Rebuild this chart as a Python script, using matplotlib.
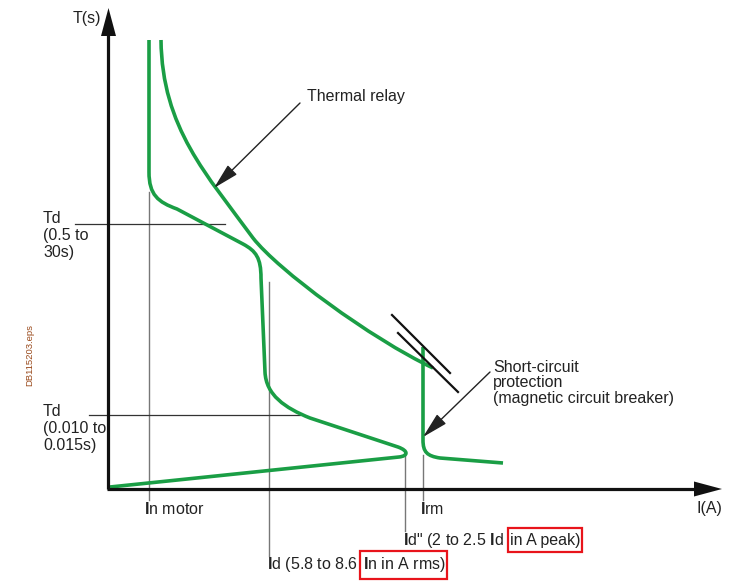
import matplotlib
matplotlib.use("Agg")
from matplotlib import pyplot as plt
from matplotlib.path import Path
from matplotlib.patches import PathPatch, Polygon, Rectangle

plt.rcParams['font.family'] = ['Liberation Sans', 'DejaVu Sans']
plt.rcParams['mathtext.fontset'] = 'custom'
plt.rcParams['mathtext.rm'] = 'Liberation Sans'
plt.rcParams['mathtext.bf'] = 'Liberation Sans:bold'

# schematic drawn in picture units (x right, y down)
GREEN = '#1a9e45'
INK = '#222222'

# motor start-up curve: vertices and path codes (M / L / C4)
motor_pts = [(149, 40), (149, 172),
             (149, 195), (158, 202), (177, 209),
             (243, 244),
             (256, 251), (261, 258), (261, 278),
             (265, 372),
             (266, 395), (285, 408), (310, 418),
             (398, 447),
             (409, 451), (408, 456), (399, 457),
             (110, 487)]
motor_codes = "MLCCCLCCCLCCCLCCCL"

# thermal relay curve (two cubic segments)
thermal_pts = [(161, 40),
               (162, 128), (207, 175), (253, 238),
               (278, 270), (370, 338), (433, 368)]
thermal_codes = "MCCCCCC"

# short-circuit (magnetic) trip curve
magnetic_pts = [(423, 347), (423, 440),
                (423, 452), (427, 456), (440, 458),
                (503, 463)]
magnetic_codes = "MLCCCL"

# adjustment marks of the magnetic threshold
marks = [((392, 315), (450, 373)), ((398, 333), (458, 392))]

# reference lines: x, y_top, y_bottom
v_lines = [(149, 192, 500), (269, 282, 556), (405, 455, 531), (423, 455, 500)]
# y, x_left, x_right
h_lines = [(224, 75, 225), (415, 89, 300)]

code_map = {"M": Path.MOVETO, "L": Path.LINETO, "C": Path.CURVE4}


def draw_path(ax, pts, codes, color, lw):
    p = Path(pts, [code_map[c] for c in codes])
    ax.add_patch(PathPatch(p, fill=False, ec=color, lw=lw, capstyle='butt', joinstyle='round'))


def arrow(ax, start, tip, lw=1.0, hl=1.5, hw=0.35, color=INK):
    ax.annotate('', xy=tip, xytext=start,
                arrowprops=dict(arrowstyle='-|>,head_length=%s,head_width=%s' % (hl, hw),
                                mutation_scale=10, lw=lw, color=color,
                                shrinkA=0, shrinkB=0))


def red_box(ax, txt, padx=2.5, pady=4.5):
    # frame drawn around the rendered text
    r = ax.figure.canvas.get_renderer()
    bb = txt.get_window_extent(r).transformed(ax.transData.inverted())
    x0, x1 = min(bb.x0, bb.x1), max(bb.x0, bb.x1)
    y0, y1 = min(bb.y0, bb.y1), max(bb.y0, bb.y1)
    ax.add_patch(Rectangle((x0 - padx, y0 - pady), x1 - x0 + 2 * padx - 1, y1 - y0 + 2 * pady,
                           fill=False, ec='#e8141b', lw=1.6))


fig = plt.figure(figsize=(7.4, 5.88), dpi=100)
ax = fig.add_axes([0, 0, 1, 1])
ax.set_xlim(0, 740)
ax.set_ylim(588, 0)
ax.axis('off')

# thin reference lines
for x, y0, y1 in v_lines:
    ax.plot([x, x], [y0, y1], color='#777777', lw=1.0, zorder=1)
for y, x0, x1 in h_lines:
    ax.plot([x0, x1], [y, y], color='#333333', lw=0.9, zorder=1)

# axes with arrow heads
ax.plot([108, 108], [489, 30], color='#111111', lw=2.3, solid_capstyle='butt', zorder=3)
ax.plot([106.5, 700], [489, 489], color='#111111', lw=2.3, solid_capstyle='butt', zorder=3)
ax.add_patch(Polygon([(108.5, 8), (101, 36), (116, 36)], closed=True, fc='#111111', ec='none', zorder=3))
ax.add_patch(Polygon([(722, 489), (694, 481.5), (694, 496.5)], closed=True, fc='#111111', ec='none', zorder=3))

# curves
draw_path(ax, motor_pts, motor_codes, GREEN, 2.6)
draw_path(ax, thermal_pts, thermal_codes, GREEN, 2.6)
draw_path(ax, magnetic_pts, magnetic_codes, GREEN, 2.6)
for a, b in marks:
    ax.plot([a[0], b[0]], [a[1], b[1]], color='#111111', lw=1.6)

# annotation arrows
arrow(ax, (300, 103), (214, 188), hl=1.6, hw=0.4)
arrow(ax, (490, 372), (423, 437), hl=1.6, hw=0.4)

fs = 11.5
ax.text(73, 18, 'T(s)', fontsize=fs, color=INK, va='center')
ax.text(697, 509, 'I(A)', fontsize=fs, color=INK, va='center')
ax.text(43, 211, 'Td\n(0.5 to\n30s)', fontsize=fs, color=INK, va='top', linespacing=1.17)
ax.text(43, 404, 'Td\n(0.010 to\n0.015s)', fontsize=fs, color=INK, va='top', linespacing=1.15)
ax.text(307, 97, 'Thermal relay', fontsize=fs, color=INK, va='center')
ax.text(493, 360, 'Short-circuit\nprotection\n(magnetic circuit breaker)', fontsize=fs,
        color=INK, va='top', linespacing=1.03)
ax.text(144, 509, r'$\mathbf{I}$n motor', fontsize=fs, color=INK, va='center')
ax.text(420, 509, r'$\mathbf{I}$rm', fontsize=fs, color=INK, va='center')

t1 = ax.text(403, 540, r'$\mathbf{I}$d" (2 to 2.5 $\mathbf{I}$d', fontsize=fs, color=INK, va='center')
t3 = ax.annotate('in A peak)', xy=(1, 0.5), xycoords=t1, xytext=(4.5, 0), textcoords='offset points',
                 va='center', ha='left', fontsize=fs, color=INK)
t2 = ax.text(267, 565, r'$\mathbf{I}$d (5.8 to 8.6', fontsize=fs, color=INK, va='center')
t4 = ax.annotate(r'$\mathbf{I}$n in A rms)', xy=(1, 0.5), xycoords=t2, xytext=(3.5, 0), textcoords='offset points',
                 va='center', ha='left', fontsize=fs, color=INK)
fig.canvas.draw()
red_box(ax, t3)
red_box(ax, t4)

ax.text(30, 355, 'DB115203.eps', fontsize=6.8, color='#9a4a1c', rotation=90, ha='center', va='center')

fig.savefig('out.png', dpi=100)
